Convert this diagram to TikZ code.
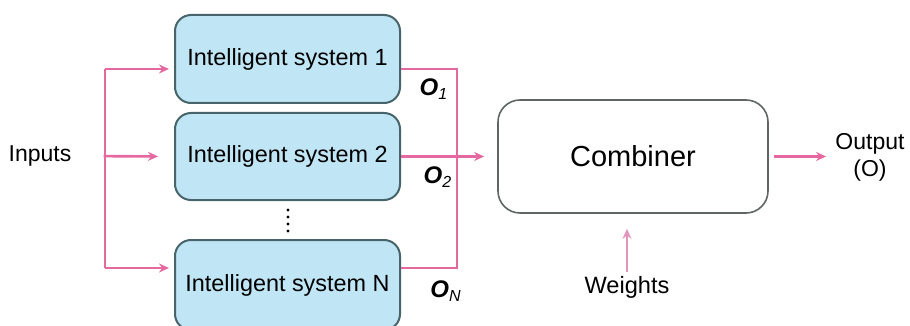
\documentclass[tikz,border=0pt]{standalone}
\usepackage{fontspec}
\setmainfont{Liberation Sans}
\usetikzlibrary{arrows.meta}

\definecolor{linkpink}{RGB}{229,105,160}
\definecolor{palepink}{RGB}{226,150,190}
\definecolor{boxfill}{RGB}{192,230,246}
\definecolor{boxedge}{RGB}{70,100,105}
\definecolor{combedge}{RGB}{95,100,100}

\tikzset{
  sysbox/.style={draw=boxedge, line width=1pt, fill=boxfill, rounded corners=8pt,
    minimum width=112.5pt, inner sep=0pt, font=\fontsize{11.7}{14}\selectfont},
  combbox/.style={draw=combedge, line width=0.8pt, rounded corners=11pt,
    minimum width=135pt, minimum height=56.5pt, font=\fontsize{14.5}{17}\selectfont},
  plain/.style={inner sep=0pt, font=\fontsize{11.5}{13}\selectfont},
  outlbl/.style={inner sep=0pt, font=\fontsize{12}{14}\selectfont\bfseries\itshape},
  link/.style={draw=linkpink, line width=1.3pt},
  arr/.style={link, -{Stealth[length=5pt,width=4.5pt]}},
  dotmark/.style={fill=black, circle, inner sep=0pt, minimum size=1.6pt}
}

\begin{document}
\begin{tikzpicture}[x=0.5pt, y=-0.5pt]
  \useasboundingbox (0,0) rectangle (910,326);
  \clip (0,0) rectangle (910,326);

  % intelligent systems
  \node[sysbox, minimum height=44pt] (s1) at (287.5,59) {Intelligent system 1};
  \node[sysbox, minimum height=43.5pt] (s2) at (287.5,156.5) {Intelligent system 2};
  \node[sysbox, minimum height=45pt] (sN) at (287.5,285) {Intelligent system N};

  % vertical ellipsis between system 2 and system N
  \foreach \k/\yy in {1/210,2/217,3/224,4/231}
    \node[dotmark] (dot\k) at (288,\yy) {};

  % combiner and surrounding labels
  \node[combbox] (comb) at (633,156.5) {Combiner};
  \node[plain] (inputs) at (40,156) {Inputs};
  \node[plain, align=center, font=\fontsize{11.5}{13.5}\selectfont] (output) at (870,157) {Output\\(O)};
  \node[plain, font=\fontsize{11.8}{14}\selectfont] (weights) at (627,287) {Weights};

  \node[outlbl] (o1) at (434,89) {O\textsubscript{\mdseries 1}};
  \node[outlbl] (o2) at (438,177) {O\textsubscript{\mdseries 2}};
  \node[outlbl] (oN) at (446,291) {O\textsubscript{\mdseries N}};

  % input distribution
  \coordinate (inTop) at (105,69);
  \coordinate (inBot) at (105,268);
  \draw[link] (inTop) -- (inBot);
  \draw[arr, shorten <=16pt, shorten >=8pt] (inputs.east) -- (s2.west);
  \draw[arr, shorten >=2.5pt] (inTop) -- (s1.west |- inTop);
  \draw[arr, shorten >=2.5pt] (inBot) -- (sN.west |- inBot);

  % output collection
  \coordinate (outTop) at (457,69);
  \coordinate (outBot) at (457,268);
  \draw[link] (s1.east |- outTop) -- (outTop) -- (outBot) -- (sN.east |- outBot);
  \draw[arr, shorten >=6.5pt] (s2.east) -- (comb.west |- s2.east);

  % combiner output and weights
  \draw[arr, shorten <=2.5pt, shorten >=4.5pt] (comb.east) -- (output.west |- comb.east);
  \draw[arr, draw=palepink, line width=1.1pt, shorten <=2pt, shorten >=7.5pt]
    (weights.north) -- (weights.north |- comb.south);
\end{tikzpicture}
\end{document}
